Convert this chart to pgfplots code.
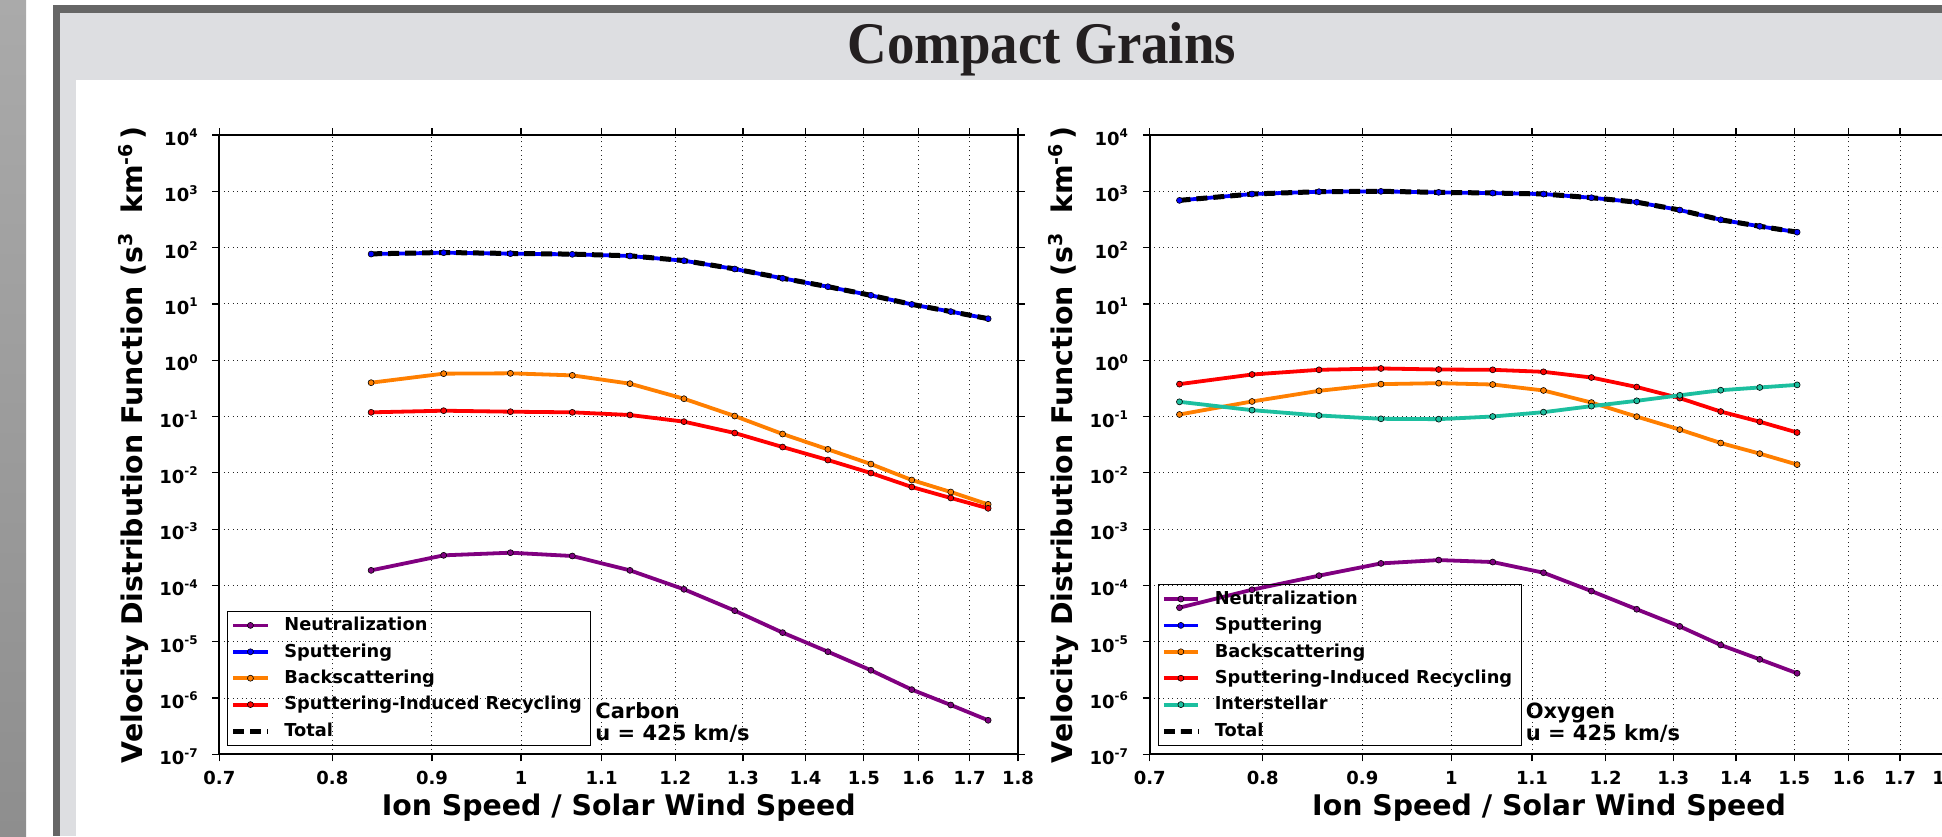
\documentclass[border=0pt]{standalone}
\usepackage{fontspec}
\setmainfont{DejaVu Sans}
\newfontfamily\titlefont{Liberation Serif}
\usepackage{pgfplots}
\pgfplotsset{compat=1.18}

\definecolor{cpurple}{HTML}{800080}
\definecolor{cblue}{HTML}{0000FF}
\definecolor{corange}{HTML}{FF7F00}
\definecolor{cred}{HTML}{FF0000}
\definecolor{cteal}{HTML}{1CBF9F}
\definecolor{band}{HTML}{DDDEE1}
\definecolor{rim}{HTML}{666666}
\definecolor{striptop}{HTML}{AAAAAA}
\definecolor{stripbot}{HTML}{8E8E8E}
\definecolor{titleink}{HTML}{231F20}

% small raised exponents for tick labels and the axis label
\newcommand\tsup[1]{\raisebox{3.9pt}{\fontsize{6}{6}\selectfont #1}}
\newcommand\lsup[1]{\raisebox{5pt}{\fontsize{9.5}{9.5}\selectfont #1}}
\newcommand\ylab{Velocity Distribution Function (s\lsup{3}\ \ km\lsup{-6}\,)}

\tikzset{
  myser/.style={color=#1, line width=1.9pt, mark=*, mark size=1.5pt,
    mark options={solid, fill=#1, draw=black, line width=0.3pt}},
  mytot/.style={color=black, line width=2.5pt, dash pattern=on 5.5pt off 3pt},
}

\begin{document}
\begin{tikzpicture}
\useasboundingbox (0pt,0pt) rectangle (971pt,418pt);
\clip (0pt,0pt) rectangle (971pt,418pt);
% page background and slide frame (one unit = one pixel of the page)
\begin{scope}[x=0.5pt,y=0.5pt]
\fill[white] (0,0) rectangle (1942,836);
\shade[top color=striptop, bottom color=stripbot] (0,0) rectangle (26,836);
\fill[rim] (53,0) rectangle (60,831);
\fill[rim] (53,823.3) rectangle (1942,831);
\fill[band] (60,0) rectangle (1942,823.3);
\fill[white] (76,0) rectangle (1942,756);
\node[anchor=base, text=titleink, font=\titlefont\bfseries\fontsize{29.5}{30}\selectfont, inner sep=0pt]
  at (1041.7,772.7) {\scalebox{0.93}[1]{Compact Grains}};
\end{scope}

% ---------------- Carbon ----------------
\begin{axis}[at={(109.7pt,40.85pt)}, anchor=south west,
    scale only axis, width=399.3pt, height=309.65pt,
    xmode=log, ymode=log,
    xmin=0.7, xmax=1.8, ymin=1e-7, ymax=1e4,
    xtick={0.7,0.8,0.9,1,1.1,1.2,1.3,1.4,1.5,1.6,1.7,1.8},
    xticklabels={0.7,0.8,0.9,1,1.1,1.2,1.3,1.4,1.5,1.6,1.7,1.8},
    ytick={1e-7,1e-6,1e-5,1e-4,1e-3,1e-2,1e-1,1,1e1,1e2,1e3,1e4},
    yticklabels={10\tsup{-7},10\tsup{-6},10\tsup{-5},10\tsup{-4},10\tsup{-3},10\tsup{-2},10\tsup{-1},10\tsup{0},10\tsup{1},10\tsup{2},10\tsup{3},10\tsup{4}},
    grid=major,
    grid style={black!85, line width=0.5pt, dash pattern=on 0.5pt off 1.75pt},
    tick align=outside, major tick length=3.5pt,
    tick style={black, line width=0.6pt},
    minor tick style={draw=none},
    axis line style={line width=0.9pt},
    tick label style={font=\fontsize{9}{10}\selectfont\bfseries, inner sep=0pt},
    xticklabel style={anchor=base, yshift=-11.5pt},
    yticklabel style={anchor=east, xshift=-7.2pt, yshift=-1.2pt},
    label style={font=\fontsize{14.2}{16}\selectfont\bfseries},
    xlabel={Ion Speed / Solar Wind Speed},
    ylabel={\ylab},
    xlabel style={at={(axis description cs:0.5,-0.098)}, anchor=base},
    ylabel style={at={(axis description cs:-0.0963,0.5)}, anchor=base},
    legend cell align=left,
    legend style={at={(axis description cs:0.01,0.0139)}, anchor=south west,
      draw=black, line width=0.5pt, fill=none,
      font=\fontsize{8.9}{10}\selectfont\bfseries,
      nodes={inner ysep=0pt, inner xsep=3pt, text height=6.8pt, text depth=1.6pt},
      inner xsep=1.5pt, inner ysep=2.9pt, row sep=4.8pt, column sep=4.2pt},
  ]
\addplot[myser=cpurple] coordinates {
 (0.8375,1.85e-4) (0.9125,3.42e-4) (0.9875,3.81e-4) (1.0625,3.33e-4) (1.1375,1.85e-4)
 (1.2125,8.53e-5) (1.2875,3.56e-5) (1.3625,1.45e-5) (1.4375,6.65e-6) (1.5125,3.11e-6)
 (1.5875,1.41e-6) (1.6625,7.52e-7) (1.7375,4.02e-7)};
\addlegendentry{Neutralization}
\addplot[myser=cblue] coordinates {
 (0.8375,76.9) (0.9125,81.2) (0.9875,78.0) (1.0625,76.0) (1.1375,71.0)
 (1.2125,58.5) (1.2875,41.7) (1.3625,28.5) (1.4375,20.2) (1.5125,14.2)
 (1.5875,9.8) (1.6625,7.3) (1.7375,5.46)};
\addlegendentry{Sputtering}
\addplot[myser=corange] coordinates {
 (0.8375,0.399) (0.9125,0.577) (0.9875,0.585) (1.0625,0.538) (1.1375,0.383)
 (1.2125,0.207) (1.2875,0.102) (1.3625,0.0489) (1.4375,0.0261) (1.5125,0.0143)
 (1.5875,0.00745) (1.6625,0.00456) (1.7375,0.00275)};
\addlegendentry{Backscattering}
\addplot[myser=cred] coordinates {
 (0.8375,0.1186) (0.9125,0.1268) (0.9875,0.1217) (1.0625,0.1186) (1.1375,0.1064)
 (1.2125,0.0810) (1.2875,0.0509) (1.3625,0.0287) (1.4375,0.01687) (1.5125,0.0099)
 (1.5875,0.0056) (1.6625,0.00357) (1.7375,0.00234)};
\addlegendentry{Sputtering-Induced Recycling}
\addplot[mytot] coordinates {
 (0.8375,77.42) (0.9125,81.90) (0.9875,78.71) (1.0625,76.66) (1.1375,71.49)
 (1.2125,58.79) (1.2875,41.85) (1.3625,28.58) (1.4375,20.24) (1.5125,14.22)
 (1.5875,9.81) (1.6625,7.31) (1.7375,5.47)};
\addlegendentry{Total}
\node[anchor=base west, font=\fontsize{10.5}{12}\selectfont\bfseries, inner sep=0pt]
  at (axis description cs:0.4703,0.058) {Carbon};
\node[anchor=base west, font=\fontsize{10.5}{12}\selectfont\bfseries, inner sep=0pt]
  at (axis description cs:0.4703,0.0231) {u = 425 km/s};
\end{axis}

% ---------------- Oxygen ----------------
\begin{axis}[at={(574.9pt,40.85pt)}, anchor=south west,
    scale only axis, width=399.3pt, height=309.65pt,
    xmode=log, ymode=log,
    xmin=0.7, xmax=1.8, ymin=1e-7, ymax=1e4,
    xtick={0.7,0.8,0.9,1,1.1,1.2,1.3,1.4,1.5,1.6,1.7,1.8},
    xticklabels={0.7,0.8,0.9,1,1.1,1.2,1.3,1.4,1.5,1.6,1.7,1.8},
    ytick={1e-7,1e-6,1e-5,1e-4,1e-3,1e-2,1e-1,1,1e1,1e2,1e3,1e4},
    yticklabels={10\tsup{-7},10\tsup{-6},10\tsup{-5},10\tsup{-4},10\tsup{-3},10\tsup{-2},10\tsup{-1},10\tsup{0},10\tsup{1},10\tsup{2},10\tsup{3},10\tsup{4}},
    grid=major,
    grid style={black!85, line width=0.5pt, dash pattern=on 0.5pt off 1.75pt},
    tick align=outside, major tick length=3.5pt,
    tick style={black, line width=0.6pt},
    minor tick style={draw=none},
    axis line style={line width=0.9pt},
    tick label style={font=\fontsize{9}{10}\selectfont\bfseries, inner sep=0pt},
    xticklabel style={anchor=base, yshift=-11.5pt},
    yticklabel style={anchor=east, xshift=-7.2pt, yshift=-1.2pt},
    label style={font=\fontsize{14.2}{16}\selectfont\bfseries},
    xlabel={Ion Speed / Solar Wind Speed},
    ylabel={\ylab},
    xlabel style={at={(axis description cs:0.5,-0.098)}, anchor=base},
    ylabel style={at={(axis description cs:-0.0963,0.5)}, anchor=base},
    legend cell align=left,
    legend style={at={(axis description cs:0.01,0.0139)}, anchor=south west,
      draw=black, line width=0.5pt, fill=none,
      font=\fontsize{8.9}{10}\selectfont\bfseries,
      nodes={inner ysep=0pt, inner xsep=3pt, text height=6.8pt, text depth=1.6pt},
      inner xsep=1.5pt, inner ysep=2.9pt, row sep=4.8pt, column sep=4.2pt},
  ]
\addplot[myser=cpurple] coordinates {
 (0.725,4.02e-5) (0.79,8.38e-5) (0.855,1.49e-4) (0.92,2.46e-4) (0.985,2.82e-4)
 (1.05,2.60e-4) (1.115,1.68e-4) (1.18,7.93e-5) (1.245,3.77e-5) (1.31,1.87e-5)
 (1.375,8.75e-6) (1.44,4.86e-6) (1.505,2.75e-6)};
\addlegendentry{Neutralization}
\addplot[myser=cblue] coordinates {
 (0.725,690) (0.79,894) (0.855,984) (0.92,998) (0.985,958)
 (1.05,931) (1.115,894) (1.18,769) (1.245,641) (1.31,465)
 (1.375,312) (1.44,239) (1.505,188)};
\addlegendentry{Sputtering}
\addplot[myser=corange] coordinates {
 (0.725,0.1086) (0.79,0.185) (0.855,0.286) (0.92,0.376) (0.985,0.391)
 (1.05,0.370) (1.115,0.290) (1.18,0.177) (1.245,0.0995) (1.31,0.0586)
 (1.375,0.0338) (1.44,0.0219) (1.505,0.0140)};
\addlegendentry{Backscattering}
\addplot[myser=cred] coordinates {
 (0.725,0.376) (0.79,0.557) (0.855,0.675) (0.92,0.713) (0.985,0.684)
 (1.05,0.675) (1.115,0.622) (1.18,0.493) (1.245,0.334) (1.31,0.212)
 (1.375,0.1225) (1.44,0.0807) (1.505,0.0520)};
\addlegendentry{Sputtering-Induced Recycling}
\addplot[myser=cteal] coordinates {
 (0.725,0.1824) (0.79,0.1297) (0.855,0.1043) (0.92,0.0910) (0.985,0.0897)
 (1.05,0.1000) (1.115,0.1194) (1.18,0.1527) (1.245,0.190) (1.31,0.238)
 (1.375,0.293) (1.44,0.328) (1.505,0.365)};
\addlegendentry{Interstellar}
\addplot[mytot] coordinates {
 (0.725,691.0) (0.79,894.9) (0.855,985.1) (0.92,999.2) (0.985,959.2)
 (1.05,932.1) (1.115,895.0) (1.18,769.8) (1.245,641.6) (1.31,465.5)
 (1.375,312.4) (1.44,239.4) (1.505,188.4)};
\addlegendentry{Total}
\node[anchor=base west, font=\fontsize{10.5}{12}\selectfont\bfseries, inner sep=0pt]
  at (axis description cs:0.4703,0.058) {Oxygen};
\node[anchor=base west, font=\fontsize{10.5}{12}\selectfont\bfseries, inner sep=0pt]
  at (axis description cs:0.4703,0.0231) {u = 425 km/s};
\end{axis}
\end{tikzpicture}
\end{document}
